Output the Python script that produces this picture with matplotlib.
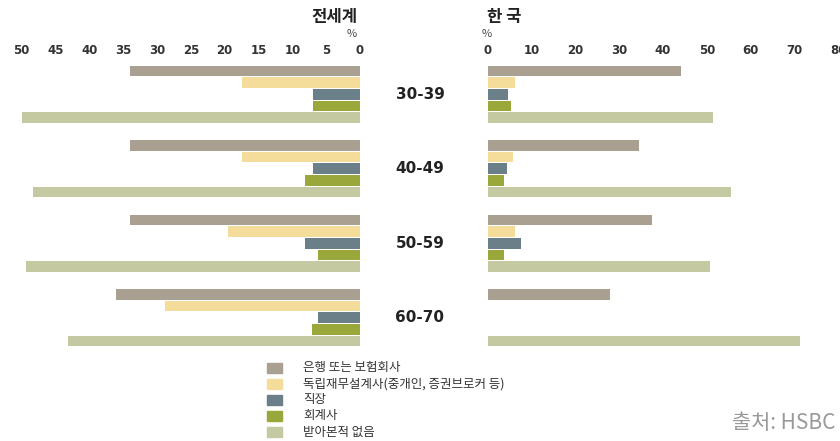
import numpy as np
import matplotlib.pyplot as plt
from matplotlib.patches import Rectangle

plt.rcParams['font.family'] = ['Noto Sans CJK KR', 'DejaVu Sans']

ages = ['30-39', '40-49', '50-59', '60-70']
labels = ['은행 또는 보험회사', '독립재무설계사(중개인, 증권브로커 등)', '직장', '회계사', '받아본적 없음']
colors = ['#a9a091', '#f4dd9a', '#6b7f88', '#9aa83b', '#c5c9a1']

# 전세계 (%)
world = [
    [34, 17.5, 7, 7, 50.3],
    [34, 17.5, 7, 8.2, 48.3],
    [34, 19.5, 8.2, 6.2, 49.4],
    [36, 28.8, 6.2, 7.1, 43.2],
]
# 한국 (%)
korea = [
    [44.2, 6.2, 4.6, 5.3, 51.4],
    [34.6, 5.6, 4.4, 3.7, 55.6],
    [37.5, 6.2, 7.5, 3.7, 50.8],
    [27.8, 0, 0, 0, 71.4],
]

W, H = 840, 441
fig = plt.figure(figsize=(8.4, 4.41), dpi=100)

pitch = 6.37
ypos = np.array([[i * pitch + j for j in range(5)] for i in range(4)])

top, bottom = 65, 347
axl = fig.add_axes([21.7 / W, 1 - bottom / H, (360 - 21.7) / W, (bottom - top) / H])
axr = fig.add_axes([488 / W, 1 - bottom / H, 350 / W, (bottom - top) / H])

for i in range(4):
    for j in range(5):
        axl.barh(ypos[i, j], world[i][j], height=0.9, color=colors[j])
        axr.barh(ypos[i, j], korea[i][j], height=0.9, color=colors[j])

for ax, lim, ticks in [(axl, (50, 0), range(0, 51, 5)), (axr, (0, 80), range(0, 81, 10))]:
    ax.set_xlim(*lim)
    ax.set_ylim(ypos.max() + 0.5, -0.5)
    ax.set_xticks(list(ticks))
    ax.set_yticks([])
    ax.xaxis.tick_top()
    ax.tick_params(axis='x', length=0, pad=6, labelsize=8.5, labelcolor='#333333')
    for lbl in ax.get_xticklabels():
        lbl.set_fontweight('bold')
        lbl.set_family('DejaVu Sans')
    for s in ax.spines.values():
        s.set_visible(False)
    ax.patch.set_alpha(0)

# 연령대 라벨
for i, a in enumerate(ages):
    yc = top + (ypos[i].mean() + 0.5) * (bottom - top) / (ypos.max() + 1)
    fig.text(420 / W, 1 - yc / H, a, ha='center', va='center', family='DejaVu Sans',
             fontsize=11, fontweight='bold', color='#222222')

fig.text(358 / W, 1 - 17 / H, '전세계', ha='right', va='center', fontsize=12, fontweight='bold', color='#222222')
fig.text(352 / W, 1 - 34 / H, '%', ha='center', va='center', fontsize=8, color='#444444')
fig.text(487 / W, 1 - 17 / H, '한 국', ha='left', va='center', fontsize=12, fontweight='bold', color='#222222')
fig.text(487 / W, 1 - 34 / H, '%', ha='center', va='center', fontsize=8, color='#444444')

# 범례
for k, (lab, c) in enumerate(zip(labels, colors)):
    yc = 368 + k * 16
    fig.add_artist(Rectangle((267 / W, 1 - (yc + 5) / H), 15 / W, 10 / H,
                             transform=fig.transFigure, color=c))
    fig.text(303 / W, 1 - yc / H, lab, ha='left', va='center', fontsize=9, color='#333333')

fig.text(835 / W, 1 - 423 / H, '출처: HSBC', ha='right', va='center', fontsize=15, color='#999999')

fig.savefig('out.png', dpi=100)
